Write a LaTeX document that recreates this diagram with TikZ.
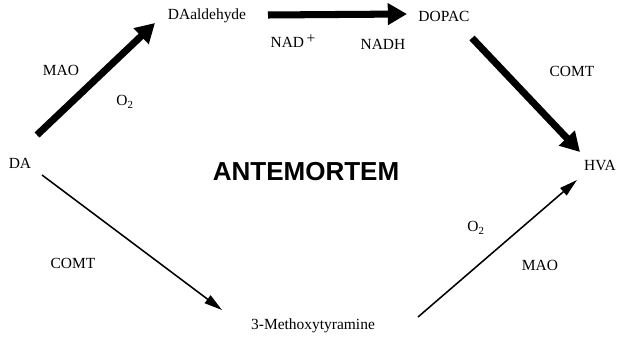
\documentclass[tikz,border=0pt]{standalone}
\usepackage{fontspec}
\setmainfont{Liberation Serif}
\newfontfamily\titlefont{Liberation Sans}
\usepackage{tikz}
\usetikzlibrary{arrows.meta, calc}

\begin{document}
\begin{tikzpicture}[x=0.025cm, y=-0.025cm, font=\fontsize{11}{13}\selectfont,
    cmpd/.style={inner sep=1pt},
    enz/.style={inner sep=1pt},
    bigarr/.style={line width=5pt, -{Triangle[length=0.48cm, width=0.52cm]}},
    thinarr/.style={line width=1.1pt, -{Triangle[length=0.45cm, width=0.24cm]}}]
  \useasboundingbox (0,0) rectangle (620,341);
  % compounds (centres)
  \node[cmpd] (da) at (20,163) {DA};
  \node[cmpd] (ald) at (207,16) {DAaldehyde};
  \node[cmpd] (dopac) at (444,16) {DOPAC};
  \node[cmpd] (hva) at (600,166) {HVA};
  \node[cmpd] (meth) at (313,326) {3-Methoxytyramine};
  % title in the middle
  \node[font=\titlefont\bfseries\fontsize{18.5}{20}\selectfont] (title) at (306,172) {ANTEMORTEM};
  % enzymes and cofactors
  \node[enz] (mao1) at (61,70) {MAO};
  \node[enz] (otwo1) at (125,102) {O\textsubscript{2}};
  \node[enz] (nad) at (293,41) {NAD\,\raisebox{0.55ex}{+}};
  \node[enz] (nadh) at (383,44) {NADH};
  \node[enz] (comt1) at (572,71) {COMT};
  \node[enz] (comt2) at (73,263) {COMT};
  \node[enz] (otwo2) at (476,228) {O\textsubscript{2}};
  \node[enz] (mao2) at (540,265) {MAO};
  % upper route: thick arrows
  \draw[bigarr] ($(da.center)+(17,-28)$) -- ($(ald.center)+(-52,7)$);
  \draw[bigarr] ($(ald.center)+(61,-1)$) -- ($(dopac.center)+(-37,-2)$);
  \draw[bigarr] ($(dopac.center)+(28,22)$) -- ($(hva.center)+(-20,-14)$);
  % lower route: thin arrows
  \draw[thinarr] ($(da.center)+(22,12)$) -- ($(meth.center)+(-91,-16)$);
  \draw[thinarr] ($(meth.center)+(105,-9)$) -- ($(hva.center)+(-23,14)$);
\end{tikzpicture}
\end{document}
